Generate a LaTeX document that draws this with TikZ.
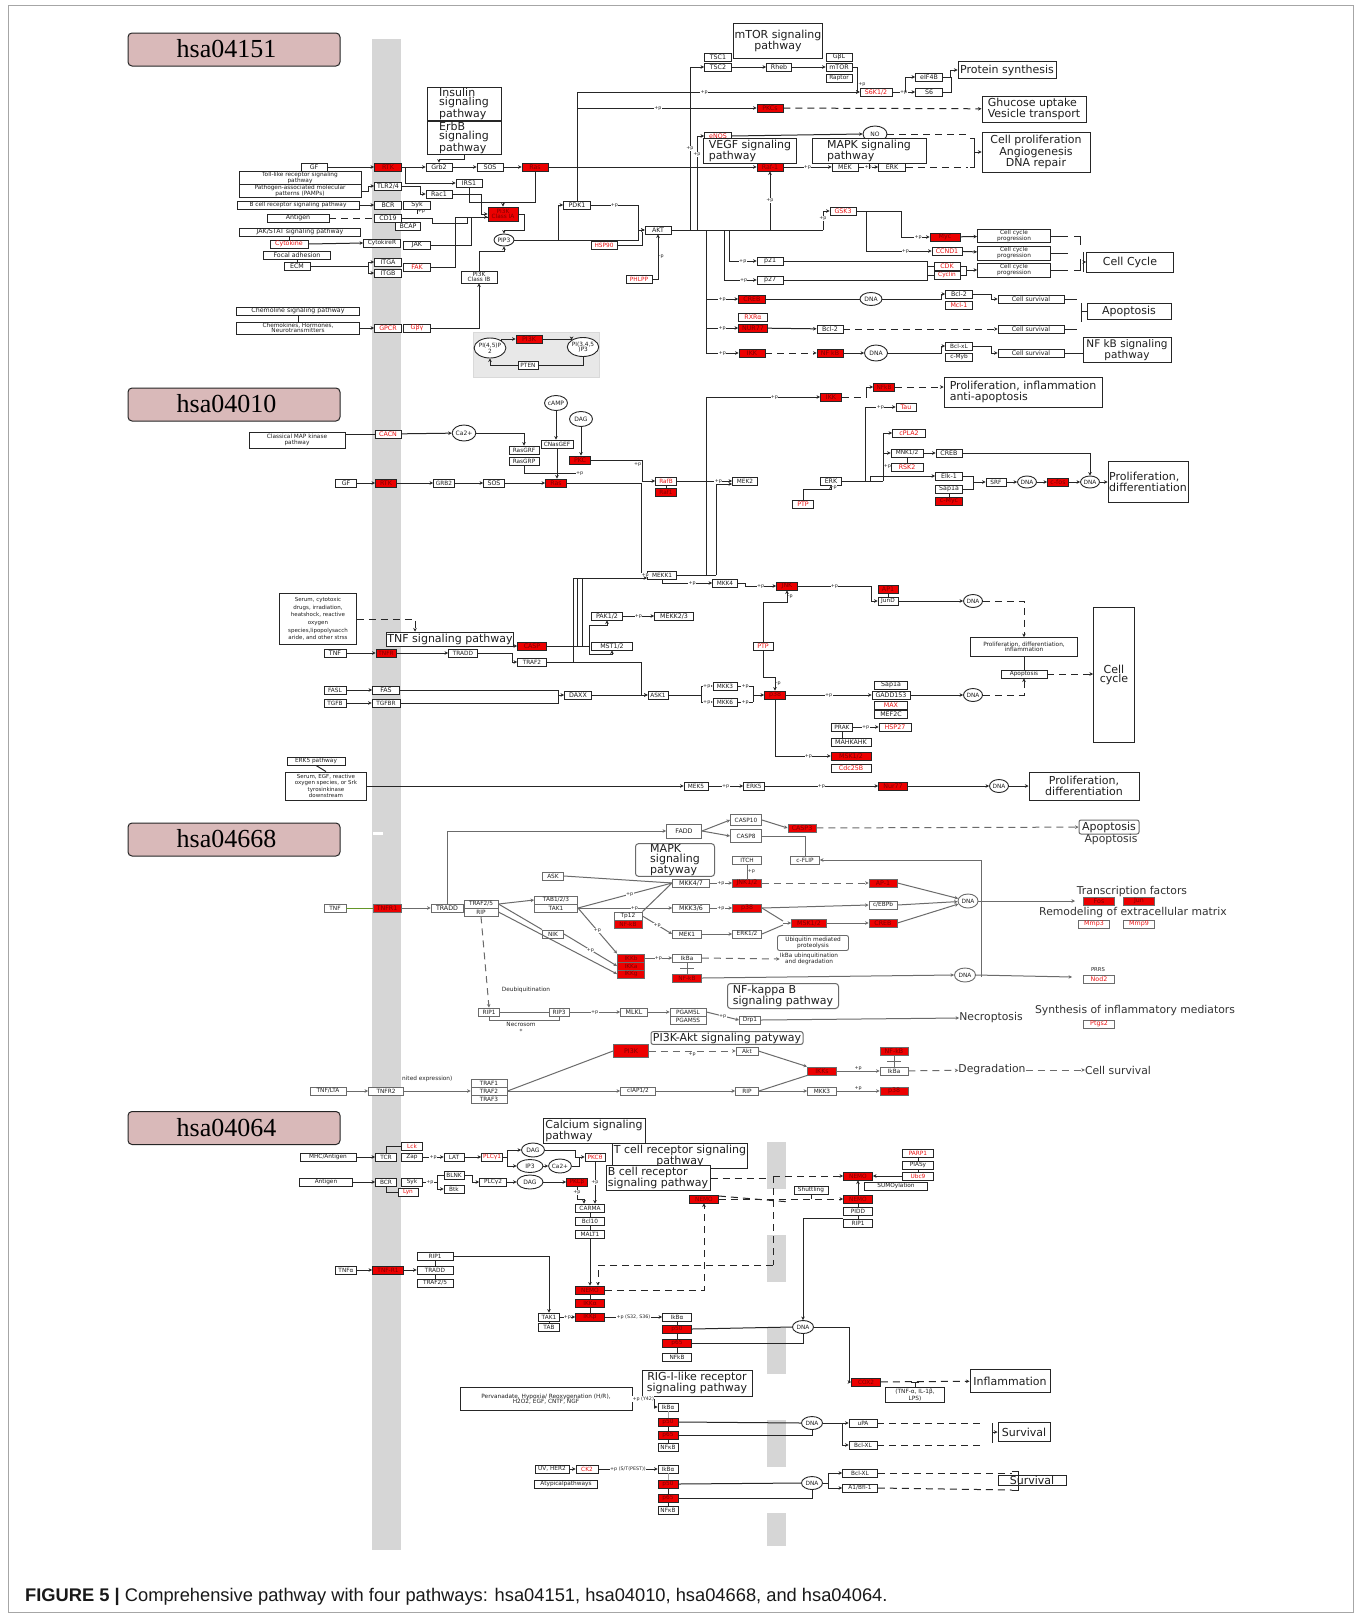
\documentclass[tikz,border=0pt]{standalone}
\usepackage{fontspec}
\setmainfont{DejaVu Sans}
\newfontfamily\hsafont{Liberation Serif}
\newfontfamily\capfont{Liberation Sans}
\usetikzlibrary{arrows.meta,shapes.geometric,calc}
\colorlet{lncol}{black!85}
\definecolor{kred}{RGB}{236,0,0}
\definecolor{kdred}{RGB}{125,0,0}
\definecolor{ktred}{RGB}{235,20,20}
\definecolor{hsafill}{RGB}{217,185,185}
\definecolor{tgreen}{RGB}{100,150,40}
\tikzset{
 gb/.style={draw=lncol, line width=0.9pt, fill=white, text=black!88, font=\fontsize{6.3}{6.3}\selectfont, inner sep=0.5pt, minimum height=8, minimum width=#1, align=center},
 gb/.default=26,
 rb/.style={gb=#1, fill=kred, text=kdred},
 rb/.default=26,
 rt/.style={gb=#1, text=ktred},
 rt/.default=26,
 two/.style={font=\fontsize{5.8}{5.6}\selectfont},
 pw/.style={draw=lncol, line width=1pt, fill=white, text=black!88, font=\fontsize{11}{9.3}\selectfont, inner sep=1pt, align=left},
 dn/.style={ellipse, draw=lncol, line width=0.9pt, fill=white, text=black!88, font=\fontsize{6}{6}\selectfont, inner sep=0pt, minimum width=20, minimum height=12, align=center},
 ln/.style={draw=lncol, line width=1pt},
 ar/.style={ln, -{Stealth[length=3.5pt,width=3.5pt]}},
 dl/.style={ln, dash pattern=on 7pt off 5pt},
 dla/.style={dl, -{Stealth[length=3.5pt,width=3.5pt]}},
 pl/.style={font=\fontsize{4.8}{4.8}\selectfont, fill=white, inner sep=0.3pt, text=black!85},
 tx/.style={font=\fontsize{10.8}{10.8}\selectfont, text=black!80, inner sep=0pt},
 sm/.style={font=\fontsize{5.8}{6.2}\selectfont, text=black!85, inner sep=0pt, align=center},
 hsa/.style={draw=black!85, line width=1pt, fill=hsafill, rounded corners=4pt, minimum width=212, minimum height=33},
 hsatx/.style={font=\hsafont\fontsize{26}{26}\selectfont, inner sep=0pt, text=black},
}
\begin{document}
\begin{tikzpicture}[x=1pt,y=-1pt]
\useasboundingbox (0,0) rectangle (1359,1614);
\fill[white] (0,0) rectangle (1359,1614);
\draw[black!35, line width=0.7pt] (8,5) rectangle (1353,1612);
% grey bands
\fill[black!16] (372,39) rectangle (401,1550);
\fill[white] (373,832) rectangle (383,834.5);
\fill[black!16] (767,1142) rectangle (786,1189);
\fill[black!16] (767,1235) rectangle (786,1282);
\fill[black!16] (767,1328) rectangle (786,1374);
\fill[black!16] (767,1420) rectangle (786,1467);
\fill[black!16] (767,1513) rectangle (786,1546);
% section labels
\node[hsa] (h1) at (234,49.5) {};
\node[hsatx] (h1t) at (226.5,49) {hsa04151};
\node[hsa] (h2) at (234,404.5) {};
\node[hsatx] (h2t) at (226.5,404) {hsa04010};
\node[hsa] (h3) at (234,839.5) {};
\node[hsatx] (h3t) at (226.5,839) {hsa04668};
\node[hsa] (h4) at (234,1128) {};
\node[hsatx] (h4t) at (226.5,1127.5) {hsa04064};

%%%%%%%%%%%%%%%% hsa04151
\node[pw, minimum width=74, minimum height=32] (aIns) at (464,104) {Insulin\\signaling\\pathway};
\node[pw, minimum width=74, minimum height=32] (aErb) at (464,138) {ErbB\\signaling\\pathway};
\node[gb=26] (aGF) at (314,167) {GF};
\node[rb=27] (aRTK) at (388,167) {RTK};
\node[gb=26] (aGrb) at (439,167) {Grb2};
\node[gb=26] (aSOS) at (490,167) {SOS};
\node[rb=26] (aRas) at (535,167) {Ras};
\node[gb=122, minimum height=11, two] (aToll) at (300,178) {Toll-like receptor signaling\\pathway};
\node[gb=122, minimum height=12, two] (aPAMP) at (300,191) {Pathogen-associated molecular\\patterns (PAMPs)};
\node[gb=122, two] (aBcr) at (298,205) {B cell receptor signaling pathway};
\node[gb=62] (aAnt) at (298,218) {Antigen};
\node[gb=121] (aJak) at (300,232) {JAK/STAT signaling pathway};
\node[rt=38] (aCyt) at (289,244) {Cytokine};
\node[gb=67] (aFoc) at (297,255) {Focal adhesion};
\node[gb=26] (aECM) at (297,266) {ECM};
\node[gb=27] (aTLR) at (388,186) {TLR2/4};
\node[gb=27] (aBCR) at (388,205) {BCR};
\node[gb=27] (aSyk) at (417,205) {Syk};
\node[gb=27] (aCD19) at (388,218) {CD19};
\node[gb=25] (aBCAP) at (408,226) {BCAP};
\node[gb=37, two] (aCytR) at (382,243) {CytokireR};
\node[gb=27] (aJAK) at (417,245) {JAK};
\node[gb=27] (aITGA) at (388,262) {ITGA};
\node[gb=27] (aITGB) at (388,273) {ITGB};
\node[rt=27] (aFAK) at (417,267) {FAK};
\node[gb=26] (aIRS) at (469,183) {IRS1};
\node[gb=26] (aRac) at (439,194) {Rac1};
\node[rb=30, minimum height=14, two] (aPI3K) at (503,214) {PI3K\\Class IA};
\node[dn] (aPIP3) at (504,240) {PIP3};
\node[gb=27] (aPDK) at (577,205) {PDK1};
\node[gb=26] (aAKT) at (658,230) {AKT};
\node[rt=26, two] (aHSP) at (604,245) {HSP90};
\node[rt=26, two] (aPHL) at (639,279) {PHLPP};
\node[gb=36, minimum height=12, two] (aPIB) at (479,277) {PI3K\\Class IB};
\node[gb=123] (aChe) at (298,311) {Chemoline signaling pathway};
\node[gb=123, minimum height=12, two] (aChk) at (298,328) {Chemokines, Hormones,\\Neurotransmitters};
\node[rt=27] (aGPCR) at (388,328) {GPCR};
\node[rt=27] (aGby) at (417,328) {Gβγ};
\node[draw=black!15, fill=black!9, minimum width=126, minimum height=45, inner sep=0] (aGray) at (536,354.5) {};
\node[dn, minimum width=28, minimum height=20, two] (aP2) at (490,348) {PI(4,5)P\\2};
\node[rb=26] (aPI3Kg) at (529,339) {PI3K};
\node[dn, minimum width=28, minimum height=19, two] (aP3) at (583,347) {PI(3,4,5\\)P3};
\node[gb=20, two] (aPTEN) at (528,365) {PTEN};
\node[pw, minimum width=87, minimum height=35, align=center] (aMTORp) at (778,41) {mTOR signaling\\pathway};
\node[gb=27] (aTSC1) at (718,57) {TSC1};
\node[gb=27] (aTSC2) at (718,67) {TSC2};
\node[gb=25] (aRheb) at (779,67) {Rheb};
\node[gb=26] (aGbL) at (839,57) {GβL};
\node[gb=26] (aMTOR) at (839,67) {mTOR};
\node[gb=26, two] (aRapt) at (839,78) {Raptor};
\node[rt=32] (aS6K) at (876,92) {S6K1/2};
\node[gb=27] (aeIF) at (929,77) {eIF4B};
\node[gb=27] (aS6) at (929,92) {S6};
\node[pw, minimum width=98, minimum height=17] (aProt) at (1007,70) {Protein synthesis};
\node[rb=26] (aPKC) at (770,108) {PKCs};
\node[pw, minimum width=104, minimum height=26] (aGlu) at (1034,109) {Ghucose uptake\\Vesicle transport};
\node[rt=27] (aeNOS) at (718,136) {eNOS};
\node[dn, minimum width=24, minimum height=16] (aNO) at (875,134) {NO};
\node[pw, minimum width=93, minimum height=16, font=\fontsize{11}{6.5}\selectfont] (aVEGF) at (750,151) {VEGF signaling\\pathway};
\node[pw, minimum width=114, minimum height=16, font=\fontsize{11}{6.5}\selectfont] (aMAPK) at (869,151) {MAPK signaling\\pathway};
\node[rb=26] (aRaf) at (770,167) {Raf-1};
\node[gb=26] (aMEK) at (845,167) {MEK};
\node[gb=27] (aERK) at (892,167) {ERK};
\node[pw, minimum width=108, minimum height=40, align=center] (aCP) at (1036,152) {Cell proliferation\\Angiogenesis\\DNA repair};
\node[rt=26] (aGSK) at (843,211) {GSK3};
\node[rb=30] (aMyc) at (945,237) {Myc};
\node[rt=30] (aCCND) at (947,251) {CCND1};
\node[rt=26] (aCDK) at (947,266) {CDK};
\node[rt=26, two] (aCyc) at (947,275) {Cyclin};
\node[gb=73, minimum height=13, two] (aCC1) at (1014,236) {Cell cycle\\progression};
\node[gb=73, minimum height=14, two] (aCC2) at (1014,253) {Cell cycle\\progression};
\node[gb=73, minimum height=14, two] (aCC3) at (1014,270) {Cell cycle\\progression};
\node[pw, minimum width=87, minimum height=20, align=center] (aCCy) at (1130,262) {Cell Cycle};
\node[gb=26] (ap21) at (770,261) {p21};
\node[gb=26] (ap27) at (770,280) {p27};
\node[rb=27] (aCREB) at (752,299) {CREB};
\node[dn, minimum width=22, minimum height=13] (aDNA1) at (871,299) {DNA};
\node[gb=27] (aBcl2) at (959,294) {Bcl-2};
\node[rt=27] (aMcl) at (959,305) {Mcl-1};
\node[gb=66] (aCS1) at (1031,299) {Cell survival};
\node[pw, minimum width=84, minimum height=16, align=center] (aApo) at (1129,311) {Apoptosis};
\node[rt=29] (aRXR) at (753,317) {RXRα};
\node[rb=29] (aNUR) at (753,328) {NUR77};
\node[gb=26] (aBcl2b) at (830,329) {Bcl-2};
\node[gb=66] (aCS2) at (1031,329) {Cell survival};
\node[rb=26] (aIKK) at (752,353) {IKK};
\node[rb=26] (aNFkB) at (830,353) {NF kB};
\node[dn, minimum width=23, minimum height=16] (aDNA2) at (876,353) {DNA};
\node[gb=27, two] (aBclxl) at (959,346) {Bcl-xL};
\node[gb=27, two] (acMyb) at (959,357) {c-Myb};
\node[gb=66] (aCS3) at (1031,353) {Cell survival};
\node[pw, minimum width=88, minimum height=25, align=center, font=\fontsize{10.5}{9}\selectfont] (aNFp) at (1127,350) {NF kB signaling\\pathway};

\draw[ar] (aGF) -- (aRTK);
\draw[ar] (aRTK) -- (aGrb);
\draw[ar] (aGrb) -- (aSOS);
\draw[ar] (aSOS) -- (aRas);
\draw[ar] (aRTK.east) -- ++(4,0) |- (aIRS.west);
\draw[ar] (aErb.south) -- ++(0,4) -| (aGrb.north);
\draw[ar] (aPAMP.east) -| (368,186) -- (aTLR.west);
\draw[ar] (aTLR.east) -- (420,186) |- (aRac.west);
\draw[ar] (aRac.east) -- (481,194) |- (aPI3K.west);
\coordinate (aJ1) at (503,202);
\draw[ln] (aIRS.south) |- (aJ1);
\draw[ar] (aRas.south) |- (aJ1) -- (aPI3K.north);
\draw[ar] (aPI3K.east) -| ++(6,16) -| (aPIP3.north);
\draw[ar] (aPIP3.east) -- (638,240) |- (aAKT.west);
\draw[ar] (558,240) |- (aPDK.west);
\draw[ar] (aPDK.east) -- node[pl]{+p} (638,205) |- (aAKT.west);
\draw[ln] (aHSP.east) -| (642,232);
\draw[ar] (aPHL.east) -| node[pl,pos=0.75,right]{-p} (aAKT.south);
\draw[ln] (aPDK.north) -- (577,92);
\draw[ar] (577,92) -- node[pl,pos=0.45]{+p} (aS6K.west);
\draw[ar] (577,108) -- node[pl,pos=0.45]{+p} (aPKC.west);
\draw[ar] (aRas.east) -- (aRaf.west);
\draw[ln] (aAKT.east) -- (823,230);
\draw[ar] (823,230) |- node[pl,pos=0.3]{+p} (aGSK.west);
\draw[ar] (690,230) |- node[pl,pos=0.25]{+p} (aTSC2.west);
\draw[ar] (697,230) |- node[pl,pos=0.4]{+p} (aeNOS.west);
\draw[ar] (770,230) -- node[pl]{+p} (aRaf.south);
\draw[ln] (706,230) -- (706,353);
\draw[ar] (706,299) -- node[pl]{+p} (aCREB.west);
\draw[ar] (706,328) -- node[pl]{+p} (aNUR.west);
\draw[ar] (706,353) -- node[pl]{+p} (aIKK.west);
\draw[ar] (724,230) |- node[pl,pos=0.8]{+p} (ap27.west);
\draw[ar] (729,230) |- node[pl,pos=0.75]{+p} (ap21.west);
\draw[ar] (aTSC2) -- (aRheb);
\draw[ar] (aRheb) -- (aMTOR);
\draw[ar] (aMTOR.east) -- ++(5,0) |- node[pl,pos=0.35,right]{+p} (aS6K.west);
\draw[ar] (aS6K) -- node[pl]{+p} (aS6);
\draw[ar] (905,92) |- (aeIF.west);
\draw[ar] (aeIF.east) -- ++(8,0) |- (aProt.west);
\draw[ln] (aS6.east) -| (951,77);
\draw[dla] (aPKC) -- (aGlu);
\draw[ar] (aeNOS.east) -- (aNO.west);
\draw[dl] (aNO.east) -- (968,134);
\draw[dl] (aERK.east) -- (968,167);
\draw[ln] (970,138) -- (974,138) -- (974,167) -- (970,167);
\draw[ar] (974,152) -- (aCP.west);
\draw[ar] (aRaf) -- node[pl]{+p} (aMEK);
\draw[ar] (aMEK) -- node[pl]{+p} (aERK);
\draw[ln] (aVEGF.south -| aRaf) -- (aRaf.north);
\draw[ln] (aMAPK.south) -- ++(0,5);
\draw[ar] (aGSK.east) -- (901,211) |- node[pl,pos=0.8]{+p} (aMyc.west);
\draw[ar] (866,211) |- node[pl,pos=0.8]{+p} (aCCND.west);
\draw[ar] (aMyc) -- (aCC1);
\draw[ar] (aCCND) -- (aCC2);
\draw[ln] (ap21.east) -- (927,261) -- (927,280) -- (ap27.east);
\draw[ln] (927,266) -- (aCDK.west);
\draw[ln] (927,275) -- (aCyc.west);
\draw[ar] (aCDK.east) -- (966,266) |- (aCC3.west);
\draw[ln] (aCyc.east) -| (966,270);
\draw[ln] (aCC1.east) -- (1068,236);
\draw[ln] (aCC2.east) -- (1068,253);
\draw[ln] (aCC3.east) -- (1068,270);
\draw[ln] (1074,236) -- (1080,236) -- (1080,245);
\draw[ln] (1074,270) -- (1080,270) -- (1080,259);
\draw[ln] (1083,252) -- (1083,272);
\draw[ar] (1083,262) -- (aCCy.west);
\draw[ln] (aCREB) -- (aDNA1);
\draw[ar] (aDNA1.east) -- (941,299) |- (aBcl2.west);
\draw[ar] (aBcl2.east) -- (991,294) |- (aCS1.west);
\draw[ln] (aCS1.east) -- (1077,299);
\draw[ar] (aNUR) -- (aBcl2b);
\draw[dla] (aBcl2b) -- (aCS2);
\draw[ln] (aCS2.east) -- (1077,329);
\draw[ln] (1081,303) -- (1081,322);
\draw[ln] (1081,311) -- (aApo.west);
\draw[dla] (aIKK) -- (aNFkB);
\draw[ar] (aNFkB) -- (aDNA2);
\draw[ar] (aDNA2.east) -- (941,353) |- (aBclxl.west);
\draw[ar] (aBclxl.east) -- (991,346) |- (aCS3.west);
\draw[ln] (aCS3.east) -- (aNFp.west |- aCS3.east);
\draw[ar] (aP2.north east) |- (aPI3Kg.west);
\draw[ar] (aPI3Kg.east) -| (aP3.north west);
\draw[ln] (aP3.south) |- (aPTEN.east);
\draw[ar] (aPTEN.west) -| (aP2.south);
\draw[ar] (aBcr.east) -- (aBCR.west);
\draw[dl] (aAnt.east) -- (aCD19.west);
\draw[ln] (aJak.south -| aCyt) -- (aCyt.north);
\draw[ar] (aCyt.east) -- (aCytR.west);
\draw[ln] (aFoc.south) -- (aECM.north);
\draw[ln] (aECM.east) -- (368,266);
\draw[ar] (368,266) |- (aITGA.west);
\draw[ar] (368,266) |- (aITGB.west);
\draw[ar] (aFAK.east) -- (455,267) |- ($(aPI3K.west)+(0,3)$);
\draw[ln] (aJAK.east) -- (471,245) |- ($(aPI3K.west)+(0,3)$);
\draw[ln] (aCD19.east) -- (432,218) |- (467,223) -- (467,217);
\draw[ln] (aSyk.south) -- node[pl,right]{+p} ++(0,5);
\draw[ln] (aChe.south) -- (aChk.north);
\draw[ar] (aChk.east) -- (aGPCR.west);
\draw[ar] (aGby.east) -| (aPIB.south);
\draw[ar] (aPIB.north) |- ($(aPIP3.south)+(0,5)$) -- (aPIP3.south);

%%%%%%%%%%%%%%%% hsa04010
\node[gb=96, minimum height=16, two] (bCl) at (297,440) {Classical MAP kinase\\pathway};
\node[rt=26] (bCACN) at (388,434) {CACN};
\node[dn, minimum width=23, minimum height=16] (bCa) at (464,433) {Ca2+};
\node[dn, minimum width=23, minimum height=15] (bcAMP) at (556,403) {cAMP};
\node[dn, minimum width=23, minimum height=15] (bDAG) at (581,419) {DAG};
\node[gb=30, two] (bRasGRF) at (524,450) {RasGRF};
\node[gb=30, two] (bRasGRP) at (524,461) {RasGRP};
\node[gb=32, two] (bCNas) at (557,444) {CNasGEF};
\node[rb=21] (bPKC) at (580,460) {PKC};
\node[gb=21] (bGF) at (346,483) {GF};
\node[rb=21] (bRTK) at (386,483) {RTK};
\node[gb=21, two] (bGRB) at (444,483) {GRB2};
\node[gb=21] (bSOS) at (494,483) {SOS};
\node[rb=21] (bRas) at (556,483) {Ras};
\node[rt=21, two] (bRafB) at (666,481) {RafB};
\node[rb=21, two] (bRaf1) at (666,492) {Raf1};
\node[gb=29, two] (bMEKK1) at (662,575) {MEKK1};
\node[gb=31] (bPAK) at (607,616) {PAK1/2};
\node[gb=39] (bMEKK23) at (674,616) {MEKK2/3};
\node[gb=41] (bMST) at (612,646) {MST1/2};
\node[gb=77, minimum height=51, font=\fontsize{5.5}{7.6}\selectfont] (bSer) at (318,619) {Serum, cytotoxic\\drugs, irradiation,\\heatshock, reactive\\oxygen\\species,lipopolysacch\\aride, and other strss};
\node[pw, minimum width=127, minimum height=14, align=center] (bTNFp) at (450,639) {TNF signaling pathway};
\node[rb=29] (bCASP) at (532,646) {CASP};
\node[gb=22] (bTNF) at (335,653) {TNF};
\node[rb=20, two] (bTNFR) at (386,653) {TNFR};
\node[gb=29, two] (bTRADD) at (463,653) {TRADD};
\node[gb=29, two] (bTRAF2) at (532,662) {TRAF2};
\node[gb=22, two] (bFASL) at (335,690) {FASL};
\node[gb=27] (bFAS) at (386,690) {FAS};
\node[gb=22, two] (bTGFB) at (335,703) {TGFB};
\node[gb=28, two] (bTGFBR) at (386,703) {TGFBR};
\node[gb=27] (bDAXX) at (578,695) {DAXX};
\node[gb=20, two] (bASK1) at (658,695) {ASK1};
\node[gb=58, two] (bERK5p) at (316,761) {ERK5 pathway};
\node[gb=81, minimum height=28, font=\fontsize{5.5}{6.6}\selectfont] (bSer2) at (326,786) {Serum, EGF, reactive\\oxygen species, or Srk\\tyrosinkinase\\downstream};
\node[gb=24, two] (bMEK5) at (696,786) {MEK5};
\node[gb=21, two] (bERK5) at (754,786) {ERK5};
\node[rb=29] (bNur) at (893,786) {Nur77};
\node[dn, minimum width=19, minimum height=13, two] (bDNA5) at (999,786) {DNA};
\node[pw, minimum width=110, minimum height=28, align=center] (bPD3) at (1084,786) {Proliferation,\\differentiation};
\node[rb=21] (bIKK) at (831,397) {IKK};
\node[rb=21, two] (bNFkB) at (884,387) {NFkB};
\node[pw, minimum width=158, minimum height=30] (bPIA) at (1023,392) {Proliferation, inflammation\\anti-apoptosis};
\node[rt=20] (bTau) at (906,407) {Tau};
\node[rt=33] (bcPLA) at (909,433) {cPLA2};
\node[gb=32, two] (bMNK) at (907,453) {MNK1/2};
\node[rt=32] (bRSK) at (907,467) {RSK2};
\node[gb=26] (bCREB) at (949,453) {CREB};
\node[gb=25, two] (bMEK2) at (745,481) {MEK2};
\node[gb=21] (bERK) at (831,481) {ERK};
\node[rt=21] (bPTP1) at (803,504) {PTP};
\node[gb=27] (bElk) at (949,476) {Elk-1};
\node[gb=27] (bSap) at (949,489) {Sap1a};
\node[rb=27] (bcMyc) at (949,501) {c-Myc};
\node[gb=20, two] (bSRF) at (996,482) {SRF};
\node[dn, minimum width=19, minimum height=12, two] (bDNA1) at (1027,482) {DNA};
\node[rb=21] (bcfos) at (1058,482) {c-fos};
\node[dn, minimum width=19, minimum height=12, two] (bDNA2) at (1090,482) {DNA};
\node[pw, minimum width=80, minimum height=41] (bPD1) at (1148,482) {Proliferation,\\differentiation};
\node[gb=25, two] (bMKK4) at (725,583) {MKK4};
\node[rb=21] (bJNK) at (787,586) {JNK};
\node[rb=20] (bAP1) at (888,589) {AP1};
\node[gb=20, two] (bJunD) at (888,601) {JunD};
\node[dn, minimum width=19, minimum height=13, two] (bDNA3) at (973,601) {DNA};
\node[gb=107, minimum height=19, two] (bPDI) at (1024,647) {Proliferation, differentiation,\\inflammation};
\node[gb=46, two] (bApo) at (1024,674) {Apoptosis};
\node[pw, minimum width=41, minimum height=135, align=center] (bCC) at (1114,675) {Cell\\cycle};
\node[rt=20] (bPTP2) at (763,646) {PTP};
\node[gb=24, two] (bMKK3) at (725,686) {MKK3};
\node[gb=24, two] (bMKK6) at (725,702) {MKK6};
\node[rb=21] (bp38) at (775,695) {p38};
\node[gb=33] (bSap2) at (891,685) {Sap1a};
\node[gb=38] (bGADD) at (891,695) {GADD153};
\node[rt=33] (bMAX) at (891,705) {MAX};
\node[gb=33] (bMEF) at (891,714) {MEF2C};
\node[dn, minimum width=19, minimum height=13, two] (bDNA4) at (973,695) {DNA};
\node[gb=21, two] (bPRAK) at (842,727) {PRAK};
\node[rt=32] (bHSP) at (895,727) {HSP27};
\node[gb=40] (bMAPK) at (851,742) {MAHKAHK};
\node[rb=40] (bMSK) at (851,756) {MSK1/2};
\node[rt=40] (bCdc) at (851,768) {Cdc25B};

\draw[ln] (bCl.east |- bCACN.west) -- (bCACN.west);
\draw[ar] (bCACN) -- (bCa);
\draw[ar] (bCa.east) -| (bRasGRF.north);
\draw[ar] (bcAMP.south) -- (bcAMP.south |- bCNas.north);
\draw[ar] (bCNas.south) -- (bCNas.south |- bRas.north);
\draw[ar] (bDAG.south) -- (bDAG.south |- bPKC.north);
\draw[ln] (bRasGRP.south) |- node[pl,pos=0.95,right=1pt]{+p} ($(bPKC.south)+(0,9)$);
\draw[ar] (bPKC.east) -| node[pl,pos=0.6,left]{+p} ($(bRafB.west)+(-13,0)$) -- (bRafB.west);
\draw[ln] (bRafB) -- (bRaf1);
\draw[ar] (bGF) -- (bRTK);
\draw[ar] (bRTK) -- (bGRB);
\draw[ar] (bGRB) -- (bSOS);
\draw[ar] (bSOS) -- (bRas);
\draw[ar] (bRas.east) -- (641,483) |- node[pl,pos=0.85]{+p} (bMEKK1.west);
\draw[ar] (bRafB.east) -- node[pl,pos=0.75]{+p} (bMEK2.west);
\draw[ln] (bMEKK1.east) -- (716,575);
\draw[ar] (716,575) |- ($(bMEK2.west)+(0,3)$);
\draw[ar] (706,575) |- node[pl,pos=0.8]{+p} (bIKK.west);
\draw[ar] (bMEKK1.south) |- node[pl,pos=0.8]{+p} (bMKK4.west);
\draw[ar] (bMKK4.east) -- (745,583) |- node[pl,pos=0.75]{+p} (bJNK.west);
\draw[ar] (bJNK.east) -- node[pl]{+p} (871,586) |- (bJunD.west);
\draw[ln] (bAP1) -- (bJunD);
\draw[ar] (bJunD) -- (bDNA3);
\draw[dla] (bDNA3.east) -| (bPDI.north);
\draw[ar] (bPTP2.north) |- (787,602) -- node[pl,right]{-p} (bJNK.south);
\draw[ar] (bPTP2.south) |- (775,677) -- node[pl,right]{-p} (bp38.north);
\draw[ln] (bASK1.east) -- (701,695);
\draw[ln] (701,686) -- (701,702);
\draw[ar] (701,686) -- node[pl]{+p} (bMKK3.west);
\draw[ar] (701,702) -- node[pl]{+p} (bMKK6.west);
\draw[ln] (bMKK3.east) -- node[pl]{+p} (753,686);
\draw[ln] (bMKK6.east) -- node[pl]{+p} (753,702);
\draw[ln] (753,686) -- (753,702);
\draw[ar] (753,695) -- (bp38.west);
\draw[ar] (bp38.east) -- node[pl]{+p} (bGADD.west);
\draw[ar] (bGADD) -- (bDNA4);
\draw[dla] (bDNA4.east) -| (bApo.south);
\draw[ln] (bPDI.south) -- (bApo.north);
\draw[dla] (bApo.east) -- (bCC.west |- bApo.east);
\draw[ar] (bp38.south) |- node[pl,pos=0.8]{+p} (bMSK.west);
\draw[ar] (bPRAK) -- node[pl]{+p} (bHSP);
\draw[ln] (bPRAK.south) -- (bPRAK.south |- bMAPK.north);
\draw[ln] (bERK.east) -- (883,481);
\draw[ar] (865,481) |- node[pl,pos=0.75]{+p} (bTau.west);
\draw[ar] (883,481) |- (bcPLA.west);
\draw[ar] (883,453) -- (bMNK.west);
\draw[ar] (870,481) |- (bElk.west);
\draw[ln] (883,470) -- node[pl,right]{+p} (883,462);
\draw[ar] (bPTP1.north) |- (831,489) -- node[pl,right]{-p} (bERK.south);
\draw[ar] (bMNK) -- (bCREB);
\draw[ar] (bCREB.east) -| (bDNA2.north);
\draw[ln] (bMNK) -- (bRSK);
\draw[ln] (bElk.east) -- (973,476) -- (973,489) -- (bSap.east);
\draw[ar] (973,482) -- (bSRF.west);
\draw[ln] (bSap) -- (bcMyc);
\draw[ar] (bSRF) -- (bDNA1);
\draw[ar] (bDNA1) -- (bcfos);
\draw[ar] (bcfos) -- (bDNA2);
\draw[ar] (bDNA2) -- (bPD1);
\draw[dl] (bIKK.east) -- (866,397);
\draw[ar] (866,397) |- (bNFkB.west);
\draw[dla] (bNFkB.east) -- (bPIA.west |- bNFkB.east);
\draw[ar] (bTNF) -- (bTNFR);
\draw[ar] (bTNFR) -- (bTRADD);
\draw[ar] (bTRADD.east) -- (512,653) |- (bTRAF2.west);
\draw[ar] (bTNFp.east |- bCASP) -- (bCASP.west);
\draw[dla] (bSer.east) -- (415,619) -- (415,631.5);
\draw[ln] (bCASP.east) -- (589,646);
\draw[ar] (589,646) |- ($(bPAK.south)+(0,5)$) -- (bPAK.south);
\draw[ar] (589,646) |- ($(bMST.south)+(0,4)$) -- (bMST.south);
\draw[ar] (bPAK) -- node[pl]{+p} (bMEKK23);
\draw[ar] (bTRAF2.east) -- (641,662) |- (bASK1.west);
\draw[ar] (573,662) |- ($(bMEKK1.west)+(0,3)$);
\draw[ln] (577,646) -- (577,578);
\draw[ln] (582,646) -- (582,578);
\draw[ar] (bFASL) -- (bFAS);
\draw[ar] (bTGFB) -- (bTGFBR);
\draw[ln] (bFAS.east) -- (558,690) -- (558,703) -- (bTGFBR.east);
\draw[ar] (558,695) -- (bDAXX.west);
\draw[ar] (bDAXX) -- (bASK1);
\draw[ln] (bERK5p.south) -- (bSer2.north);
\draw[ar] (bSer2.east) -- (bMEK5.west);
\draw[ar] (bMEK5) -- node[pl]{+p} (bERK5);
\draw[ar] (bERK5) -- node[pl]{+p} (bNur);
\draw[ar] (bNur) -- (bDNA5);
\draw[ar] (bDNA5) -- (bPD3);

%%%%%%%%%%%%%%%% hsa04668 (grey drawing)
\colorlet{lncol}{black!58}
\node[gb=35, minimum height=14] (cFADD) at (684,831) {FADD};
\node[gb=31, minimum height=11, two] (cC10) at (746,820) {CASP10};
\node[gb=31, minimum height=13, two] (cC8) at (746,836) {CASP8};
\node[rb=28] (cC3) at (802,828) {CASP3};
\node[pw, minimum width=60, minimum height=14, align=center, rounded corners=2pt] (cApo) at (1109,827) {Apoptosis};
\node[tx] (cApoT) at (1111,840) {Apoptosis};
\node[gb=29, two] (cFLIP) at (805,860) {c-FLIP};
\node[gb=29, two] (cITCH) at (747,860) {ITCH};
\node[pw, minimum width=79, minimum height=27, rounded corners=3pt, font=\fontsize{11}{8.2}\selectfont] (cMAPK) at (675,860) {MAPK\\signaling\\patyway};
\node[gb=21, two] (cASK) at (553,876) {ASK};
\node[gb=37] (cMKK47) at (691,883) {MKK4/7};
\node[rb=29] (cJNK) at (747,883) {JNK1/2};
\node[rb=28] (cAP1) at (883,883) {AP-1};
\node[gb=22, two] (cTNF) at (335,908) {TNF};
\node[rb=28] (cTNFR1) at (387,908) {TNFR1};
\node[gb=32] (cTRADD) at (447,908) {TRADD};
\node[gb=34, two] (cTRAF) at (481,904) {TRAF2/5};
\node[gb=34, two] (cRIP) at (481,912) {RIP};
\node[gb=43, two] (cTAB) at (556,900) {TAB1/2/3};
\node[gb=43, two] (cTAK) at (556,908) {TAK1};
\node[gb=37] (cMKK36) at (691,908) {MKK3/6};
\node[rb=29] (cp38) at (747,908) {p38};
\node[gb=28, two] (cEBP) at (883,905) {c/EBPb};
\node[dn, minimum width=20, minimum height=14, two] (cDNA1) at (968,901) {DNA};
\node[gb=28, two] (cTp12) at (628,916) {Tp12};
\node[rb=28, two] (cNFkB1) at (628,924) {NF-kB};
\node[gb=29, two] (cMEK1) at (687,934) {MEK1};
\node[gb=29, two] (cERK) at (747,934) {ERK1/2};
\node[rb=35] (cMSK) at (809,923) {MSK1/2};
\node[rb=28] (cCREB) at (883,923) {CREB};
\node[gb=21, two] (cNIK) at (553,934) {NIK};
\node[gb=71, minimum height=15, rounded corners=2pt, two] (cUbi) at (813,943) {Ubiquitin mediated\\proteolysis};
\node[sm] (cIkT) at (809,959) {IkBa ubinquitination\\and degradation};
\node[rb=27, two] (cIKKb) at (631,958) {IKKb};
\node[rb=27, two] (cIKKa) at (631,966) {IKKa};
\node[rb=27, two] (cIKKg) at (631,974) {IKKg};
\node[gb=29, two] (cIkBa) at (687,958) {IkBa};
\node[rb=29, two] (cNFkB2) at (687,978) {NF-kB};
\node[dn, minimum width=21, minimum height=14, two] (cDNA2) at (965,975) {DNA};
\node[sm, font=\fontsize{5.3}{5.3}\selectfont] (cPRRS) at (1098,970) {PRRS};
\node[rt=31] (cNod2) at (1099,979) {Nod2};
\node[tx] (cTF) at (1132,892) {Transcription factors};
\node[rb=31] (cFos) at (1099,901) {Fos};
\node[rb=31] (cJun) at (1139,901) {Jun};
\node[tx] (cRem) at (1133,913) {Remodeling of extracellular matrix};
\node[rt=31] (cMmp3) at (1094,924) {Mmp3};
\node[rt=31] (cMmp9) at (1139,924) {Mmp9};
\node[sm] (cDeub) at (526,990) {Deubiquitination};
\node[gb=21, two] (cRIP1) at (489,1012) {RIP1};
\node[gb=20, two] (cRIP3) at (559,1012) {RIP3};
\node[gb=27] (cMLKL) at (634,1012) {MLKL};
\node[gb=36, two] (cPG1) at (688,1012) {PGAM5L};
\node[gb=36, two] (cPG2) at (688,1020) {PGAM5S};
\node[gb=21, two] (cDrp) at (750,1020) {Drp1};
\node[sm] (cNecS) at (521,1024) {Necrosom};
\node[sm] (cStar) at (521,1031) {*};
\node[pw, minimum width=111, minimum height=25, rounded corners=3pt] (cNFp) at (783,996) {NF-kappa B\\signaling pathway};
\node[tx] (cNecr) at (991,1018) {Necroptosis};
\node[tx] (cSyn) at (1135,1011) {Synthesis of inflammatory mediators};
\node[rt=31] (cPtgs) at (1099,1024) {Ptgs2};
\node[pw, minimum width=152, minimum height=12, align=center, rounded corners=2pt] (cPIp) at (727,1038) {PI3K-Akt signaling patyway};
\node[rb=35, minimum height=13] (cPI3K) at (631,1051) {PI3K};
\node[gb=22, two] (cAkt) at (747,1051) {Akt};
\node[rb=29] (cIKKs) at (822,1071) {IKKs};
\node[rb=28] (cNFkB3) at (894,1051) {NF-kB};
\node[gb=28, two] (cIkBa2) at (894,1071) {IkBa};
\node[tx] (cDeg) at (992,1070) {Degradation};
\node[tx] (cCS) at (1118,1070) {Cell survival};
\node[gb=29, two] (cMKK3) at (822,1091) {MKK3};
\node[rb=28] (cp38b) at (894,1091) {p38};
\node[gb=23, two] (cRIPb) at (747,1091) {RIP};
\node[gb=36, two] (cTNFL) at (328,1091) {TNF/LTA};
\node[gb=35, two] (cTNFR2) at (386,1091) {TNFR2};
\node[sm, anchor=west] (cLim) at (402,1079) {nited expression)};
\node[gb=36, two] (cTRAF1) at (489,1083) {TRAF1};
\node[gb=36, two] (cTRAF2) at (489,1091) {TRAF2};
\node[gb=36, two] (cTRAF3) at (489,1099) {TRAF3};
\node[gb=35, two] (cIAP) at (638,1091) {cIAP1/2};

\draw[ln, draw=tgreen] (cTNF) -- (cTNFR1);
\draw[ar] (cTNFR1) -- (cTRADD);
\draw[ar] (cTRADD.north) |- (cFADD.west);
\draw[ar] (cFADD.east) -- (cC10.west);
\draw[ar] (cFADD.east) -- (cC8.west);
\draw[ar] (cC10.east) -- (cC3.west);
\draw[dla] (cC3) -- (cApo);
\draw[ln] (cFLIP.north) |- (cC8.east);
\draw[ar] (981,977) -- (981,860) -- (cFLIP.east);
\draw[ar] (cDNA1.east) -- (1075,901);
\draw[ar] (cAP1.east) -- (cDNA1);
\draw[ar] (cEBP.east) -- (cDNA1);
\draw[ar] (cCREB.east) -- (cDNA1);
\draw[ln] (cASK.east) -- (cMKK47.west);
\draw[ar] (cTAK.east) -- node[pl,pos=0.55]{+p} (cMKK47.west);
\draw[ar] (cTAK.east) -- node[pl,pos=0.6]{+p} (cMKK36.west);
\draw[ar] (cTAK.east) -- node[pl,pos=0.5]{+p} (cIKKb.north west);
\draw[ln] (cTp12.north east) -- (cMKK47.west);
\draw[ar] (cTp12.east) -- node[pl]{+p} (cMEK1.west);
\draw[ar] (cTRAF.east) -- (cTAB.west);
\draw[ln] (cTRAF.east) -- (cNIK.north west);
\draw[ar] (cNIK.east) -- node[pl]{+p} (cIKKa.west);
\draw[ar] (cRIP.east) -- (cIKKg.west);
\draw[ar] (cMKK47) -- node[pl]{+p} (cJNK);
\draw[ar] (cMKK36) -- node[pl]{+p} (cp38);
\draw[ar] (cMEK1) -- (cERK);
\draw[dla] (cJNK) -- (cAP1);
\draw[ln] (cITCH.south) -- node[pl,right]{+p} (cJNK.north);
\draw[ar] (cp38.east) -- (cEBP.west);
\draw[ln] (cp38.east) -- (783,921);
\draw[ln] (cERK.east) -- (783,925);
\draw[ar] (783,923) -- (cMSK.west);
\draw[ar] (cMSK) -- (cCREB);
\draw[ar] (cIKKb.east) -- node[pl]{+p} (cIkBa.west);
\draw[dla] (cIkBa.east) -- (cIkT.west);
\draw[ln] (cIkBa.south) -- (cNFkB2.north);
\draw[ln] (680,968) -- (694,968);
\draw[ar] (cNFkB2.east) -- (cDNA2.west);
\draw[ar] (cDNA2.east) -- (1072,977);
\draw[dla] (cRIP.south) -- (cRIP1.north);
\draw[ln] (cRIP1) -- (cRIP3);
\draw[ln] (cRIP1.south) -- ++(0,4) -| (cRIP3.south);
\draw[ar] (cRIP3) -- node[pl]{+p} (cMLKL);
\draw[ar] (cMLKL) -- (cPG1);
\draw[ar] (cPG1.east) -- node[pl]{+p} (cDrp.west);
\draw[ar] (cDrp.east) -- (cNecr.west);
\draw[ar] (cTNFL) -- (cTNFR2);
\draw[ar] (cTNFR2) -- (cTRAF2);
\draw[ln] (cTRAF2.east) -- (cPI3K.west);
\draw[ar] (cTRAF2) -- (cIAP);
\draw[ar] (cIAP) -- (cRIPb);
\draw[dla] (cPI3K) -- node[pl,below=1pt]{+p} (cAkt);
\draw[ar] (cAkt.east) -- (cIKKs.north west);
\draw[ln] (cRIPb.east) -- (cIKKs.south west);
\draw[ar] (cRIPb) -- (cMKK3);
\draw[ar] (cMKK3) -- node[pl,above]{+p} (cp38b);
\draw[ar] (cIKKs) -- node[pl,above]{+p} (cIkBa2);
\draw[ln] (cNFkB3.south) -- (cIkBa2.north);
\draw[ln] (887,1061) -- (901,1061);
\draw[dla] (cIkBa2) -- (cDeg);
\draw[dla] (cDeg) -- (cCS);

%%%%%%%%%%%%%%%% hsa04064
\colorlet{lncol}{black!85}
\node[pw, minimum width=102, minimum height=23] (dCal) at (594,1131) {Calcium signaling\\pathway};
\node[gb=56, two] (dMHC) at (328,1157) {MHC/Antigen};
\node[gb=21, two] (dTCR) at (386,1157) {TCR};
\node[rt=21, two] (dLck) at (412,1146) {Lck};
\node[gb=21, two] (dZap) at (412,1157) {Zap};
\node[gb=20, two] (dLAT) at (454,1157) {LAT};
\node[rt=21, two] (dPLCg1) at (492,1157) {PLCγ1};
\node[dn, minimum width=23, minimum height=14] (dDAG1) at (533,1150) {DAG};
\node[dn, minimum width=26, minimum height=13] (dIP3) at (530,1166) {IP3};
\node[dn, minimum width=22, minimum height=14, two] (dCa) at (560,1166) {Ca2+};
\node[rt=20, two] (dPKCt) at (595,1157) {PKCθ};
\node[pw, minimum width=133, minimum height=18, align=center, font=\fontsize{11}{7.5}\selectfont] (dTcr) at (680,1156) {T cell receptor signaling\\pathway};
\node[gb=53, two] (dAnt) at (326,1182) {Antigen};
\node[gb=21, two] (dBCR) at (386,1182) {BCR};
\node[gb=21, two] (dSyk) at (412,1182) {Syk};
\node[rt=20, two] (dLyn) at (408,1192) {Lyn};
\node[gb=20, two] (dBLNK) at (454,1175) {BLNK};
\node[gb=20, two] (dBtk) at (454,1189) {Btk};
\node[gb=27, two] (dPLCg2) at (493,1182) {PLCγ2};
\node[dn, minimum width=26, minimum height=14] (dDAG2) at (530,1182) {DAG};
\node[rb=21, two] (dPKCb) at (577,1182) {PKCβ};
\node[pw, minimum width=104, minimum height=21, font=\fontsize{11}{8.5}\selectfont] (dBcr) at (658,1178) {B cell receptor\\signaling pathway};
\node[rb=29, two] (dNEMO1) at (704,1199) {NEMO};
\node[gb=29, two] (dCARMA) at (590,1208) {CARMA};
\node[gb=29, two] (dBcl10) at (590,1221) {Bcl10};
\node[gb=29, two] (dMALT) at (590,1234) {MALT1};
\node[gb=36, two] (dRIP1) at (435,1256) {RIP1};
\node[gb=21, two] (dTNFa) at (346,1270) {TNFα};
\node[rb=31, two] (dTNFR1) at (388,1270) {TNF-R1};
\node[gb=36, two] (dTRADD) at (435,1270) {TRADD};
\node[gb=36, two] (dTRAF) at (435,1283) {TRAF2/5};
\node[rb=29, two] (dNEMO2) at (590,1290) {NEMO};
\node[rb=29, two] (dIKKa) at (590,1303) {IKKα};
\node[rb=29, two] (dIKKb) at (590,1317) {IKKβ};
\node[gb=21, two] (dTAK1) at (549,1317) {TAK1};
\node[gb=21, two] (dTAB) at (549,1327) {TAB};
\node[gb=29, two] (dIkBa1) at (677,1317) {IkBα};
\node[rb=29, two] (dp50a) at (677,1329) {p50};
\node[rb=29, two] (dp65a) at (677,1343) {p65};
\node[gb=29, two] (dNFkBa) at (677,1357) {NFkB};
\node[pw, minimum width=110, minimum height=26, align=center, font=\fontsize{11}{8}\selectfont] (dRIG) at (697,1383) {RIG-I-like receptor\\signaling pathway};
\node[gb=172, minimum height=23, two] (dPerv) at (546,1399) {Pervanadate, Hypoxia/ Reoxygenation (H/R),\\H2O2, EGF, CNTF, NGF};
\node[gb=20, two] (dIkBa2) at (668,1407) {IkBα};
\node[rb=20, two] (dp50b) at (668,1422) {p50};
\node[rb=20, two] (dp65b) at (668,1435) {p65};
\node[gb=20, two] (dNFkBb) at (668,1447) {NFκB};
\node[gb=34, two] (dUV) at (552,1469) {UV, HER2};
\node[rt=22, two] (dCK2) at (587,1469) {CK2};
\node[gb=20, two] (dIkBa3) at (668,1469) {IkBα};
\node[gb=63, two] (dAtyp) at (566,1484) {Atypicalpathways};
\node[rb=20, two] (dp50c) at (668,1484) {p50};
\node[rb=20, two] (dp65c) at (668,1498) {p65};
\node[gb=20, two] (dNFkBc) at (668,1510) {NFκB};
\node[rt=31, two] (dPARP) at (918,1153) {PARP1};
\node[gb=31, two] (dPIAS) at (918,1165) {PIASy};
\node[rt=31, two] (dUbc) at (918,1176) {Ubc9};
\node[gb=63, two] (dSUMO) at (896,1186) {SUMOylation};
\node[rb=29, two] (dNEMO3) at (858,1176) {NEMO};
\node[rb=29, two] (dNEMO4) at (858,1199) {NEMO};
\node[gb=34, two] (dShut) at (811,1190) {Shuttling};
\node[gb=29, two] (dPIDD) at (858,1211) {PIDD};
\node[gb=29, two] (dRIP1b) at (858,1223) {RIP1};
\node[dn, minimum width=21, minimum height=13, two] (dDNA1) at (803,1327) {DNA};
\node[rb=29, two] (dCOX) at (866,1382) {COX2};
\node[gb=59, minimum height=15, two] (dTNFb) at (915,1395) {(TNF-α, IL-1β,\\LPS)};
\node[pw, minimum width=80, minimum height=23, align=center] (dInf) at (1010,1381) {Inflammation};
\node[dn, minimum width=21, minimum height=13, two] (dDNA2) at (812,1423) {DNA};
\node[gb=28, two] (duPA) at (863,1423) {uPA};
\node[gb=28, two] (dBclXL1) at (863,1445) {Bcl-XL};
\node[pw, minimum width=52, minimum height=19, align=center] (dSur1) at (1024,1432) {Survival};
\node[dn, minimum width=21, minimum height=13, two] (dDNA3) at (812,1483) {DNA};
\node[gb=35, two] (dBclXL2) at (860,1473) {Bcl-XL};
\node[gb=35, two] (dA1) at (860,1488) {A1/Bfl-1};
\node[pw, minimum width=68, minimum height=10, inner sep=0pt, align=center] (dSur2) at (1032,1480) {Survival};

\draw[ar] (dMHC) -- (dTCR);
\draw[ln] (dTCR.north) |- (dLck.west);
\draw[ar] (dZap) -- node[pl]{+p} (dLAT);
\draw[ar] (dLAT) -- (dPLCg1);
\draw[ar] (dPLCg1.east) -- ++(5,0) |- (dDAG1.west);
\draw[ar] (dPLCg1.east) -- ++(5,0) |- (dIP3.west);
\draw[ar] (dDAG1.east) -- (575,1150) |- (dPKCt.west);
\draw[ar] (dIP3) -- (dCa);
\draw[ln] (dCa.east) -| (579,1157);
\draw[ar] (dPKCt.south) -- node[pl]{+p} (dPKCt.south |- dCARMA.north);
\draw[ar] (dAnt) -- (dBCR);
\draw[ln] (dBCR.south) |- (dLyn.west);
\draw[ar] (dSyk.east) -- node[pl]{+p} (437,1182) |- (dBtk.west);
\draw[ln] (437,1182) |- (dBLNK.west);
\draw[ar] (dBLNK.east) -- (472,1175) |- (dPLCg2.west);
\draw[ar] (dPLCg2) -- (dDAG2);
\draw[ar] (dDAG2) -- (dPKCb);
\draw[ar] (dPKCb.south) -- node[pl]{+p} (577,1199) -| ([xshift=-6]dCARMA.north);
\draw[ln] (dCARMA) -- (dBcl10);
\draw[ln] (dBcl10) -- (dMALT);
\draw[ar] (dMALT) -- (dNEMO2);
\draw[ln] (dNEMO2) -- (dIKKa);
\draw[ln] (dIKKa) -- (dIKKb);
\draw[ar] (dTNFa) -- (dTNFR1);
\draw[ar] (dTNFR1) -- (dTRADD);
\draw[ln] (dRIP1) -- (dTRADD);
\draw[ln] (dTRADD) -- (dTRAF);
\draw[ar] (dRIP1.east) -| (dTAK1.north);
\draw[ln] (dTAK1) -- (dTAB);
\draw[ar] (dTAK1) -- node[pl]{+p} (dIKKb);
\draw[ar] (dIKKb) -- node[pl]{+p (S32, S36)} (dIkBa1);
\draw[ln] (dIkBa1) -- (dp50a);
\draw[ln] (dp50a) -- (dp65a);
\draw[ln] (dp65a) -- (dNFkBa);
\draw[ln] (dp50a.east) -- (dDNA1.west);
\draw[ln] (dp65a.east) -| (dDNA1.south);
\draw[ar] (dRIP1b.north west) -| (dDNA1.north);
\draw[ar] (dDNA1.east) -- (849,1327) |- (dCOX.west);
\draw[dla] (dCOX) -- (dInf);
\draw[ln] (dTNFb.north) -- (dTNFb.north |- dCOX.east);
\draw[ln] ($(dTNFb.north |- dCOX.east)+(-4,0)$) -- ++(8,0);
\draw[dl] (dBcr.east) -- (770,1178);
\draw[dla] (773,1176) -- (dNEMO3.west);
\draw[dl] (773,1176) -- (773,1265);
\draw[dla] (dNEMO1.east) -- (dNEMO4.west);
\draw[dl] ([yshift=3]dNEMO1.east) -- (790,1202);
\draw[ln] (dShut.south) -- ++(0,5);
\draw[dla] (dNEMO2.east) -| (dNEMO1.south);
\draw[dla] (773,1265) -- (598,1265) -- ([xshift=8]dNEMO2.north);
\draw[ln] (dPARP) -- (dPIAS);
\draw[ln] (dPIAS) -- (dUbc);
\draw[ar] (dUbc.west) -- (dNEMO3.east);
\draw[ar] (dNEMO4) -- (dNEMO3);
\draw[ln] (dNEMO4) -- (dPIDD);
\draw[ln] (dPIDD) -- (dRIP1b);
\draw[ar] (dPerv.east) -- node[pl]{+p (Y42)} (654,1399) |- (dIkBa2.west);
\draw[ln, draw=black!35] (dIkBa2) -- (dp50b);
\draw[ln] (dp50b) -- (dp65b);
\draw[ln] (dp65b) -- (dNFkBb);
\draw[ln] (dp50b.east) -- (dDNA2.west);
\draw[ln] (dp65b.east) -| (dDNA2.south);
\draw[ar] (dDNA2) -- (duPA);
\draw[ar] (842,1423) |- (dBclXL1.west);
\draw[dl] (duPA.east) -- (985,1423);
\draw[dl] (dBclXL1.east) -- (985,1445);
\draw[ln] (992,1423) -- (992,1443);
\draw[ar] (992,1432) -- (dSur1.west);
\draw[ar] (dUV) -- (dCK2);
\draw[ar] (dCK2) -- node[pl]{+p (S/T(PEST))} (dIkBa3);
\draw[ln, draw=black!35] (dIkBa3) -- (dp50c);
\draw[ln] (dp50c) -- (dp65c);
\draw[ln] (dp65c) -- (dNFkBc);
\draw[ln] (dp50c.east) -- (dDNA3.west);
\draw[ln] (dp65c.east) -| (dDNA3.south);
\draw[ar] (dDNA3.east) -- (828,1483) |- (dBclXL2.west);
\draw[ar] (828,1483) |- (dA1.west);
\draw[dl] (dBclXL2.east) -- (1012,1473);
\draw[dl] (dA1.east) -- (1012,1490);
\draw[ln] (1012,1471) -- (1018,1471) -- (1018,1490) -- (1012,1490);

% caption
\node[anchor=west, inner sep=0pt, text=black!90, font=\capfont\fontsize{18.3}{18.3}\selectfont] (cap) at (25,1597) {\textbf{FIGURE 5 |} Comprehensive pathway with four pathways: hsa04151, hsa04010, hsa04668, and hsa04064.};
\end{tikzpicture}
\end{document}
